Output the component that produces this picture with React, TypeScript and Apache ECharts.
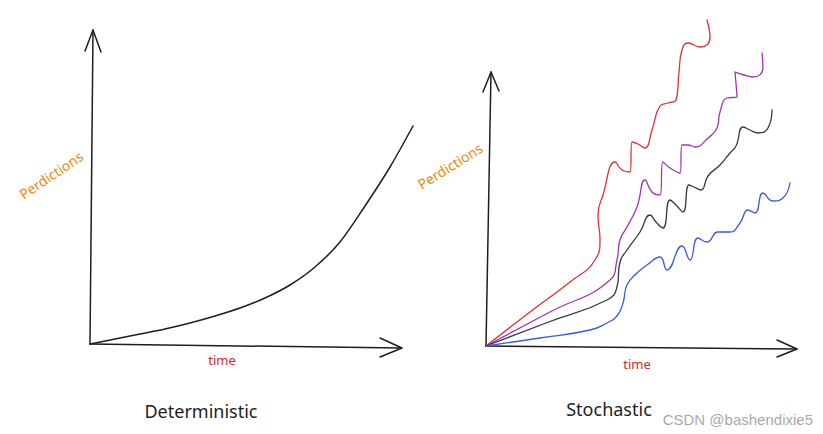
import React, { useEffect, useRef } from "react";
import * as echarts from "echarts";

// Left panel (Deterministic): [time, prediction] offsets from origin
const deterministic: number[][] = [
  [0, 0], [25, 5], [50, 10], [75, 15], [100, 21], [125, 28], [150, 36], [175, 46], [200, 59],
  [225, 77], [250, 102], [275, 138], [300, 177], [323, 218],
];
const leftYAxisLine: number[][] = [[0, 0], [3, 314]];
const leftYArrow: number[][] = [[-5, 293], [3, 314], [11, 292]];
const leftXAxisLine: number[][] = [[0, 0], [311, -4]];
const leftXArrow: number[][] = [[290, 6], [312, -4], [290, -13]];

// Right panel (Stochastic)
const redPath: number[][] = [
  [0, 0], [44, 34], [84, 64], [109, 86], [114, 106], [112, 131], [117, 151], [129, 184], [136, 176],
  [144, 174], [146, 204], [152, 202], [159, 198], [166, 216], [174, 240], [182, 243], [190, 246],
  [193, 274], [196, 296], [202, 303], [214, 299], [224, 308], [221, 326],
];
const purplePath: number[][] = [
  [0, 0], [62, 33], [124, 66], [131, 86], [134, 106], [141, 119], [151, 139], [159, 166], [166, 154],
  [174, 151], [177, 184], [184, 178], [194, 173], [196, 201], [202, 201], [209, 199], [222, 208],
  [231, 218], [234, 234], [241, 248], [251, 249], [249, 274], [258, 271], [267, 269], [277, 278], [276, 293],
];
const blackPath: number[][] = [
  [0, 0], [60, 23], [121, 46], [131, 59], [134, 84], [141, 96], [154, 114], [164, 131], [170, 124],
  [177, 118], [184, 146], [190, 141], [197, 134], [203, 161], [208, 159], [215, 156], [222, 170],
  [234, 181], [244, 193], [250, 200], [257, 219], [264, 216], [272, 213], [282, 218], [286, 236],
];
const bluePath: number[][] = [
  [0, 0], [54, 8], [104, 16], [121, 23], [131, 30], [137, 43], [141, 61], [151, 73], [161, 81],
  [174, 89], [181, 76], [196, 100], [204, 86], [212, 108], [221, 104], [232, 114], [244, 114],
  [254, 123], [262, 136], [269, 133], [277, 153], [287, 145], [297, 148], [304, 163],
];
const rightYAxisLine: number[][] = [[0, 0], [5, 274]];
const rightYArrow: number[][] = [[-3, 254], [5, 274], [13, 255]];
const rightXAxisLine: number[][] = [[0, 0], [311, -3]];
const rightXArrow: number[][] = [[291, 6], [311, -3], [291, -11]];

const yLabel = "Perdictions";
const xLabel = "time";
const leftTitle = "Deterministic";
const rightTitle = "Stochastic";
const watermark = "CSDN @bashendixie5";

const INK = "#1e1e1e";

function line(data: number[][], idx: number, color: string, width: number, smooth: number | boolean) {
  return {
    type: "line",
    xAxisIndex: idx,
    yAxisIndex: idx,
    data,
    showSymbol: false,
    symbol: "none",
    smooth,
    silent: true,
    clip: false,
    lineStyle: { color, width, cap: "round", join: "round" },
  };
}

export default function App() {
  const ref = useRef<HTMLDivElement>(null);
  useEffect(() => {
    if (!ref.current) return;
    const chart = echarts.init(ref.current, undefined, { renderer: "svg" });
    const hiddenAxis = (min: number, max: number, idx: number) => ({
      type: "value",
      gridIndex: idx,
      min,
      max,
      show: false,
      splitLine: { show: false },
    });
    const font = "Noto Sans";
    chart.setOption({
      animation: false,
      backgroundColor: "#ffffff",
      grid: [
        { left: 70, top: 14, width: 360, height: 350 },
        { left: 466, top: 6, width: 355, height: 360 },
      ],
      xAxis: [hiddenAxis(-20, 340, 0), hiddenAxis(-20, 335, 1)],
      yAxis: [hiddenAxis(-20, 330, 0), hiddenAxis(-20, 340, 1)],
      series: [
        line(leftYAxisLine, 0, INK, 1.5, false),
        line(leftYArrow, 0, INK, 1.5, false),
        line(leftXAxisLine, 0, INK, 1.5, false),
        line(leftXArrow, 0, INK, 1.5, false),
        line(deterministic, 0, INK, 1.5, 0.3),
        line(rightYAxisLine, 1, INK, 1.5, false),
        line(rightYArrow, 1, INK, 1.5, false),
        line(rightXAxisLine, 1, INK, 1.5, false),
        line(rightXArrow, 1, INK, 1.5, false),
        line(redPath, 1, "#e03131", 1.3, 0.5),
        line(purplePath, 1, "#9c36b5", 1.3, 0.5),
        line(blackPath, 1, "#343a40", 1.3, 0.5),
        line(bluePath, 1, "#3b5bdb", 1.3, 0.5),
      ],
      graphic: [
        {
          type: "text", x: 51, y: 175, rotation: (34 * Math.PI) / 180,
          style: { text: yLabel, fill: "#e8890c", font: `14px '${font}'`, align: "center", verticalAlign: "middle" },
        },
        {
          type: "text", x: 450, y: 166, rotation: (32 * Math.PI) / 180,
          style: { text: yLabel, fill: "#e8890c", font: `14px '${font}'`, align: "center", verticalAlign: "middle" },
        },
        {
          type: "text", x: 222, y: 360,
          style: { text: xLabel, fill: "#c92a2a", font: `13px '${font}'`, align: "center", verticalAlign: "middle" },
        },
        {
          type: "text", x: 637, y: 364,
          style: { text: xLabel, fill: "#c92a2a", font: `13px '${font}'`, align: "center", verticalAlign: "middle" },
        },
        {
          type: "text", x: 201, y: 411,
          style: { text: leftTitle, fill: "#1e1e1e", font: `18px '${font}'`, align: "center", verticalAlign: "middle" },
        },
        {
          type: "text", x: 609, y: 409,
          style: { text: rightTitle, fill: "#1e1e1e", font: `18px '${font}'`, align: "center", verticalAlign: "middle" },
        },
        {
          type: "text", x: 813, y: 419,
          style: { text: watermark, fill: "rgba(150,150,150,0.85)", font: `15px 'Liberation Sans'`, align: "right", verticalAlign: "middle" },
        },
      ],
    });
    return () => chart.dispose();
  }, []);
  return <div ref={ref} style={{ width: 823, height: 434, position: "absolute", left: 0, top: 0 }} />;
}
